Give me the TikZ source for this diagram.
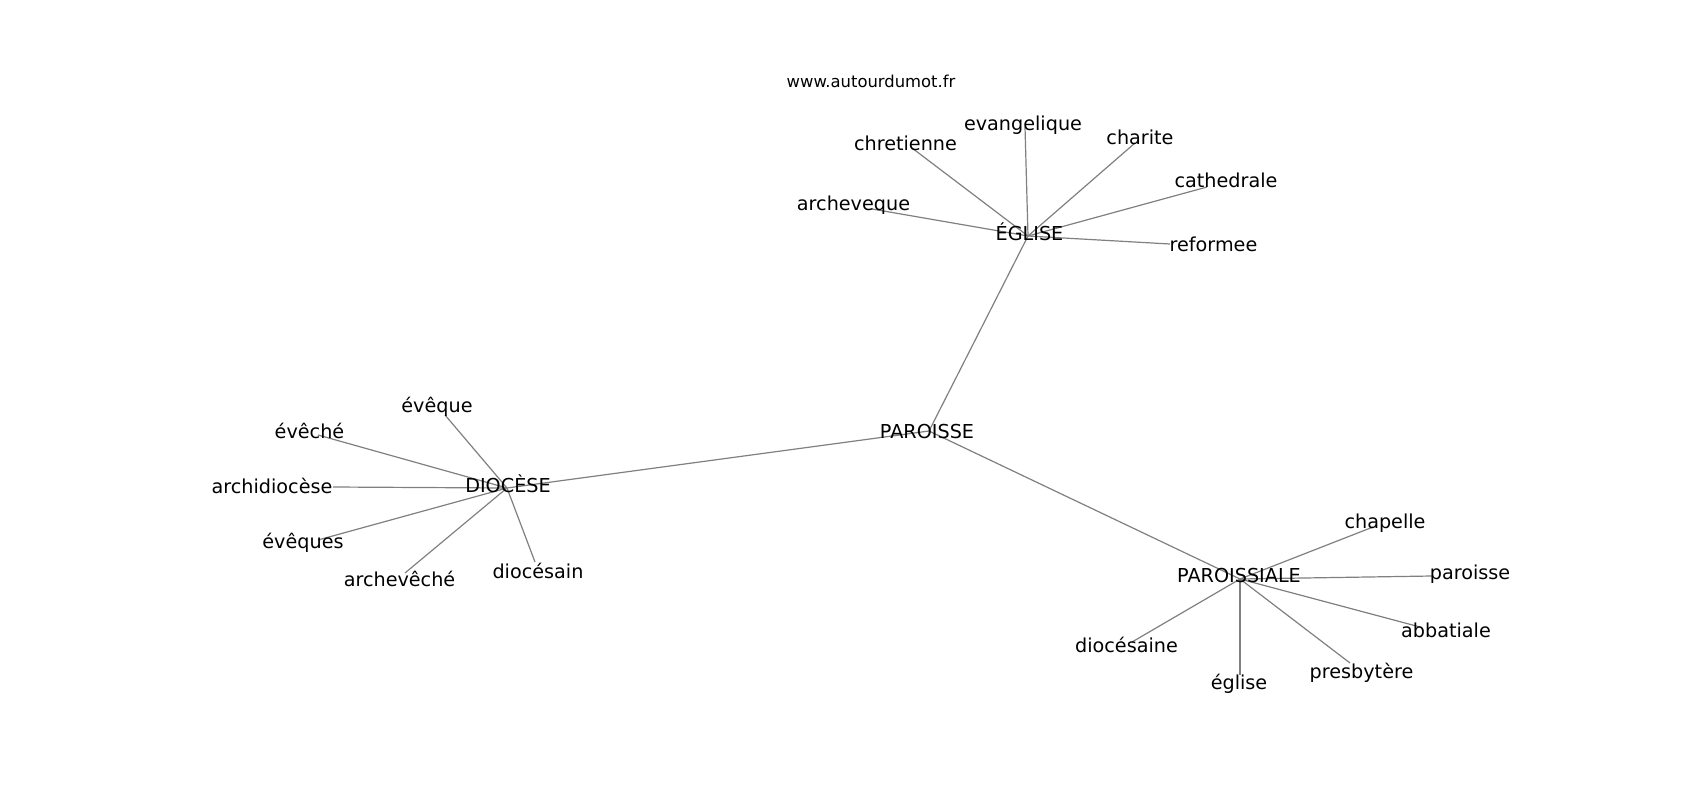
\documentclass[tikz,border=0pt]{standalone}
\usepackage{fontspec}
\setmainfont{DejaVu Sans}
\begin{document}
\begin{tikzpicture}[x=1pt,y=-1pt,
  edge/.style={draw=black!50, line width=1.2pt},
  lbl/.style={anchor=base, inner sep=0pt, text=black, font=\fontsize{19.2}{22}\selectfont},
  wm/.style={anchor=base, inner sep=0pt, text=black, font=\fontsize{16.4}{19}\selectfont}]
\useasboundingbox[fill=white] (0,0) rectangle (1700,800);
% node points
\coordinate (pParoisse) at (929,431);
\coordinate (pEglise) at (1028,236);
\coordinate (pDiocese) at (507,488);
\coordinate (pParoissiale) at (1240,579);
\coordinate (pEvangelique) at (1025,127);
\coordinate (pChretienne) at (912,148);
\coordinate (pCharite) at (1135,143);
\coordinate (pCathedrale) at (1207,187);
\coordinate (pArcheveque) at (872,209);
\coordinate (pReformee) at (1170,244);
\coordinate (pEveque) at (445,415);
\coordinate (pEveche) at (318,435);
\coordinate (pArchidiocese) at (333,487);
\coordinate (pEveques) at (318,540);
\coordinate (pArcheveche) at (405,573);
\coordinate (pDiocesain) at (535,562);
\coordinate (pChapelle) at (1373,527);
\coordinate (pParoisseB) at (1432,576);
\coordinate (pAbbatiale) at (1420,627);
\coordinate (pPresbytere) at (1350,663);
\coordinate (pEgliseB) at (1240,675);
\coordinate (pDiocesaine) at (1132,642);
% edges
\draw[edge] (pParoisse) -- (pEglise);
\draw[edge] (pParoisse) -- (pDiocese);
\draw[edge] (pParoisse) -- (pParoissiale);
\foreach \t in {pEvangelique,pChretienne,pCharite,pCathedrale,pArcheveque,pReformee}
  \draw[edge] (pEglise) -- (\t);
\foreach \t in {pEveque,pEveche,pArchidiocese,pEveques,pArcheveche,pDiocesain}
  \draw[edge] (pDiocese) -- (\t);
\foreach \t in {pChapelle,pParoisseB,pAbbatiale,pPresbytere,pEgliseB,pDiocesaine}
  \draw[edge] (pParoissiale) -- (\t);
% labels
\node[wm] (watermark) at (871,88) {www.autourdumot.fr};
\node[lbl] (tParoisse) at (927,438) {PAROISSE};
\node[lbl] (tEglise) at (1029.5,240) {ÉGLISE};
\node[lbl] (tDiocese) at (508,492) {DIOCÈSE};
\node[lbl] (tParoissiale) at (1239,582) {PAROISSIALE};
\node[lbl] (tEvangelique) at (1023,130) {evangelique};
\node[lbl] (tChretienne) at (905.5,150) {chretienne};
\node[lbl] (tCharite) at (1140,144) {charite};
\node[lbl] (tCathedrale) at (1226,187) {cathedrale};
\node[lbl] (tArcheveque) at (853.5,210) {archeveque};
\node[lbl] (tReformee) at (1213.5,251) {reformee};
\node[lbl] (tEveque) at (437,412) {évêque};
\node[lbl] (tEveche) at (309.5,438) {évêché};
\node[lbl] (tArchidiocese) at (272,493) {archidiocèse};
\node[lbl] (tEveques) at (303,548) {évêques};
\node[lbl] (tArcheveche) at (399.5,586) {archevêché};
\node[lbl] (tDiocesain) at (538,578) {diocésain};
\node[lbl] (tChapelle) at (1385,528) {chapelle};
\node[lbl] (tParoisseB) at (1470,579) {paroisse};
\node[lbl] (tAbbatiale) at (1446,637) {abbatiale};
\node[lbl] (tPresbytere) at (1361.5,678) {presbytère};
\node[lbl] (tEgliseB) at (1239,689) {église};
\node[lbl] (tDiocesaine) at (1126.5,652) {diocésaine};
\end{tikzpicture}
\end{document}
